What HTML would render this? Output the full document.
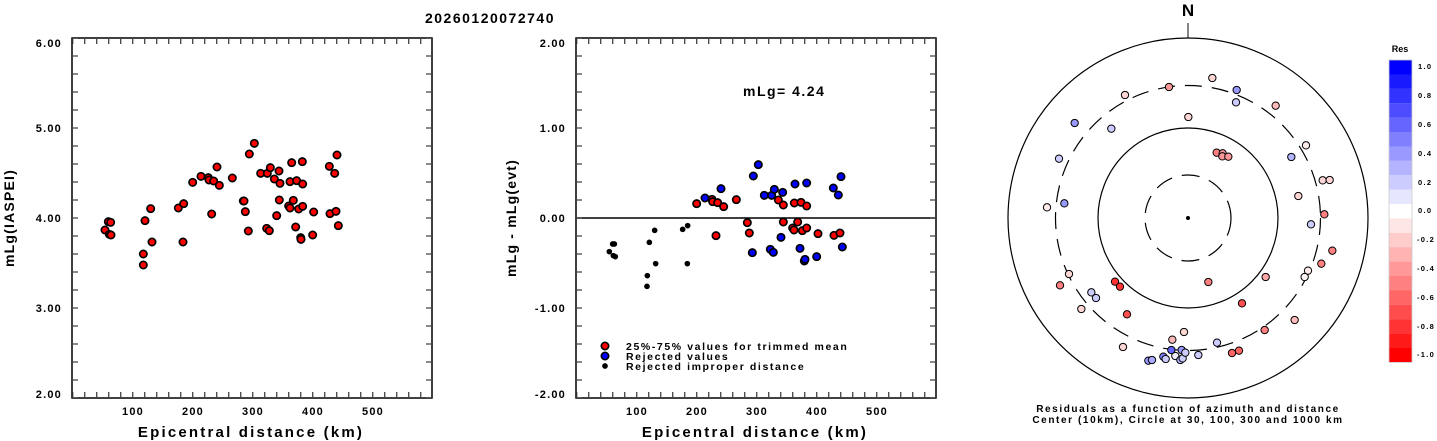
<!DOCTYPE html>
<html><head><meta charset="utf-8"><style>
body{margin:0;background:#fff;}
svg{display:block;font-family:"Liberation Sans",sans-serif;font-weight:bold;}
</style></head><body>
<svg width="1437" height="441" viewBox="0 0 1437 441" xmlns="http://www.w3.org/2000/svg">
<text x="490" y="23" font-size="14" text-anchor="middle" letter-spacing="1.5">20260120072740</text>

<!-- LEFT PLOT -->
<rect x="72" y="38" width="360" height="360" fill="none" stroke="#000" stroke-width="1.5"/>
<g stroke="#444" stroke-width="1.3">
<line x1="75" y1="38" x2="75" y2="398" stroke-width="6" stroke-dasharray="1.3 16.7" stroke-dashoffset="0.65"/>
<line x1="429" y1="38" x2="429" y2="398" stroke-width="6" stroke-dasharray="1.3 16.7" stroke-dashoffset="0.65"/>
<line x1="72.7" y1="395" x2="432" y2="395" stroke-width="6" stroke-dasharray="1.3 10.7" stroke-dashoffset="0.65"/>
<line x1="72.7" y1="41" x2="432" y2="41" stroke-width="6" stroke-dasharray="1.3 10.7" stroke-dashoffset="0.65"/>
</g>
<g font-size="11" text-anchor="end" letter-spacing="1.2">
<text x="62" y="47">6.00</text><text x="62" y="132">5.00</text><text x="62" y="222">4.00</text><text x="62" y="312">3.00</text><text x="62" y="398">2.00</text>
</g>
<g font-size="11" text-anchor="middle" letter-spacing="1.2">
<text x="133" y="415">100</text><text x="193" y="415">200</text><text x="253" y="415">300</text><text x="313" y="415">400</text><text x="373" y="415">500</text>
</g>
<text x="251" y="437" font-size="15" text-anchor="middle" letter-spacing="2.2">Epicentral distance (km)</text>
<text transform="translate(14,218) rotate(-90)" font-size="14" text-anchor="middle" letter-spacing="1.2">mLg(IASPEI)</text>
<g transform="scale(0.33333)" fill="#f00" stroke="#000" stroke-width="5">
<circle cx="315" cy="690" r="11"/><circle cx="325" cy="665" r="11"/><circle cx="332" cy="667" r="11"/><circle cx="328" cy="703" r="11"/><circle cx="333" cy="705" r="11"/>
<circle cx="430" cy="762" r="11"/><circle cx="430" cy="795" r="11"/><circle cx="435" cy="662" r="11"/><circle cx="452" cy="626" r="11"/><circle cx="456" cy="726" r="11"/>
<circle cx="535" cy="624" r="11"/><circle cx="551" cy="611" r="11"/><circle cx="549" cy="726" r="11"/><circle cx="578" cy="547" r="11"/><circle cx="603" cy="529" r="11"/>
<circle cx="625" cy="533" r="11"/><circle cx="627" cy="540" r="11"/><circle cx="641" cy="543" r="11"/><circle cx="651" cy="501" r="11"/><circle cx="658" cy="556" r="11"/>
<circle cx="635" cy="642" r="11"/><circle cx="697" cy="534" r="11"/><circle cx="730" cy="603" r="11"/><circle cx="732" cy="603" r="11"/><circle cx="736" cy="635" r="11"/>
<circle cx="745" cy="693" r="11"/><circle cx="748" cy="462" r="11"/><circle cx="763" cy="430" r="11"/><circle cx="782" cy="520" r="11"/><circle cx="802" cy="520" r="11"/>
<circle cx="800" cy="685" r="11"/><circle cx="808" cy="692" r="11"/><circle cx="811" cy="503" r="11"/><circle cx="823" cy="537" r="11"/><circle cx="837" cy="513" r="11"/>
<circle cx="840" cy="550" r="11"/><circle cx="838" cy="600" r="11"/><circle cx="830" cy="647" r="11"/><circle cx="866" cy="618" r="11"/><circle cx="870" cy="624" r="11"/>
<circle cx="870" cy="545" r="11"/><circle cx="875" cy="488" r="11"/><circle cx="880" cy="601" r="11"/><circle cx="887" cy="681" r="11"/><circle cx="890" cy="542" r="11"/>
<circle cx="896" cy="627" r="11"/><circle cx="907" cy="485" r="11"/><circle cx="908" cy="552" r="11"/><circle cx="908" cy="619" r="11"/><circle cx="902" cy="713" r="11"/>
<circle cx="903" cy="718" r="11"/><circle cx="938" cy="705" r="11"/><circle cx="941" cy="636" r="11"/><circle cx="988" cy="499" r="11"/><circle cx="990" cy="641" r="11"/>
<circle cx="1004" cy="520" r="11"/><circle cx="1008" cy="634" r="11"/><circle cx="1011" cy="465" r="11"/><circle cx="1015" cy="677" r="11"/>
</g>

<!-- MIDDLE PLOT -->
<rect x="576" y="38" width="360" height="360" fill="none" stroke="#000" stroke-width="1.5"/>
<line x1="576" y1="218" x2="936" y2="218" stroke="#000" stroke-width="1.5"/>
<g stroke="#444" stroke-width="1.3">
<line x1="579" y1="38" x2="579" y2="398" stroke-width="6" stroke-dasharray="1.3 16.7" stroke-dashoffset="0.65"/>
<line x1="933" y1="38" x2="933" y2="398" stroke-width="6" stroke-dasharray="1.3 16.7" stroke-dashoffset="0.65"/>
<line x1="576.7" y1="395" x2="936" y2="395" stroke-width="6" stroke-dasharray="1.3 10.7" stroke-dashoffset="0.65"/>
<line x1="576.7" y1="41" x2="936" y2="41" stroke-width="6" stroke-dasharray="1.3 10.7" stroke-dashoffset="0.65"/>
</g>
<g font-size="11" text-anchor="end" letter-spacing="1.2">
<text x="566" y="47">2.00</text><text x="566" y="132">1.00</text><text x="566" y="222">0.00</text><text x="566" y="312">-1.00</text><text x="566" y="398">-2.00</text>
</g>
<g font-size="11" text-anchor="middle" letter-spacing="1.2">
<text x="637" y="415">100</text><text x="697" y="415">200</text><text x="757" y="415">300</text><text x="817" y="415">400</text><text x="877" y="415">500</text>
</g>
<text x="755" y="437" font-size="15" text-anchor="middle" letter-spacing="2.2">Epicentral distance (km)</text>
<text transform="translate(516,218) rotate(-90)" font-size="14" text-anchor="middle" letter-spacing="1.2">mLg - mLg(evt)</text>
<text x="743" y="96" font-size="14" letter-spacing="1.5">mLg= 4.24</text>
<g transform="translate(490,0) scale(0.33333)" stroke="#000" stroke-width="5">
<g fill="#000">
<circle cx="358" cy="755" r="6"/><circle cx="368" cy="732" r="6"/><circle cx="373" cy="732" r="6"/><circle cx="370" cy="767" r="6"/><circle cx="376" cy="770" r="6"/>
<circle cx="472" cy="827" r="6"/><circle cx="471" cy="859" r="6"/><circle cx="478" cy="727" r="6"/><circle cx="494" cy="691" r="6"/><circle cx="497" cy="791" r="6"/>
<circle cx="578" cy="688" r="6"/><circle cx="593" cy="677" r="6"/><circle cx="592" cy="791" r="6"/>
<circle cx="345" cy="1098" r="6"/>
</g>
<g fill="#f00">
<circle cx="620" cy="611" r="11"/><circle cx="666" cy="598" r="11"/><circle cx="668" cy="605" r="11"/><circle cx="683" cy="608" r="11"/><circle cx="701" cy="620" r="11"/>
<circle cx="678" cy="707" r="11"/><circle cx="739" cy="599" r="11"/><circle cx="772" cy="668" r="11"/><circle cx="778" cy="699" r="11"/><circle cx="865" cy="600" r="11"/>
<circle cx="880" cy="615" r="11"/><circle cx="880" cy="666" r="11"/><circle cx="908" cy="684" r="11"/><circle cx="912" cy="690" r="11"/><circle cx="913" cy="609" r="11"/>
<circle cx="923" cy="666" r="11"/><circle cx="933" cy="607" r="11"/><circle cx="937" cy="692" r="11"/><circle cx="950" cy="618" r="11"/><circle cx="950" cy="684" r="11"/>
<circle cx="984" cy="701" r="11"/><circle cx="1032" cy="706" r="11"/><circle cx="1050" cy="699" r="11"/>
<circle cx="345" cy="1038" r="11"/>
</g>
<g fill="#00f">
<circle cx="645" cy="594" r="11"/><circle cx="693" cy="566" r="11"/><circle cx="790" cy="528" r="11"/><circle cx="805" cy="494" r="11"/><circle cx="787" cy="758" r="11"/>
<circle cx="823" cy="586" r="11"/><circle cx="845" cy="586" r="11"/><circle cx="853" cy="568" r="11"/><circle cx="841" cy="748" r="11"/><circle cx="850" cy="757" r="11"/>
<circle cx="878" cy="577" r="11"/><circle cx="873" cy="712" r="11"/><circle cx="915" cy="552" r="11"/><circle cx="950" cy="549" r="11"/><circle cx="930" cy="745" r="11"/>
<circle cx="943" cy="783" r="11"/><circle cx="945" cy="778" r="11"/><circle cx="980" cy="770" r="11"/><circle cx="1030" cy="564" r="11"/><circle cx="1045" cy="585" r="11"/>
<circle cx="1053" cy="530" r="11"/><circle cx="1057" cy="741" r="11"/>
<circle cx="345" cy="1068" r="11"/>
</g>
</g>
<g font-size="10.5" letter-spacing="1.6">
<text x="626" y="350">25%-75% values for trimmed mean</text>
<text x="626" y="360">Rejected values</text>
<text x="626" y="370">Rejected improper distance</text>
</g>

<!-- POLAR -->
<text x="1188" y="16" font-size="17" text-anchor="middle">N</text>
<line x1="1188" y1="23" x2="1188" y2="38" stroke="#444" stroke-width="1.3"/>
<g fill="none" stroke="#000" stroke-width="1.2">
<circle cx="1188" cy="218" r="180"/>
<circle cx="1188" cy="218" r="90"/>
<circle cx="1188" cy="218" r="132.5" stroke-dasharray="17 10"/>
<circle cx="1188" cy="218" r="43" stroke-dasharray="18 10"/>
</g>
<circle cx="1188" cy="218" r="2" fill="#000"/>
<g transform="translate(1000,0) scale(0.33333)" stroke="#000" stroke-width="3">
<circle cx="637" cy="234" r="11" fill="#ffd6d6"/>
<circle cx="507" cy="261" r="11" fill="#ff9999"/>
<circle cx="710" cy="270" r="11" fill="#9999ff"/>
<circle cx="708" cy="307" r="11" fill="#ccccff"/>
<circle cx="375" cy="285" r="11" fill="#ffd6d6"/>
<circle cx="827" cy="317" r="11" fill="#ffbbbb"/>
<circle cx="565" cy="351" r="11" fill="#ffd6d6"/>
<circle cx="224" cy="369" r="11" fill="#9999ff"/>
<circle cx="334" cy="386" r="11" fill="#ccccff"/>
<circle cx="918" cy="436" r="11" fill="#ffeaea"/>
<circle cx="177" cy="476" r="11" fill="#ccccff"/>
<circle cx="874" cy="471" r="11" fill="#b3b3ff"/>
<circle cx="650" cy="458" r="11" fill="#ff8080"/>
<circle cx="668" cy="460" r="11" fill="#ff9999"/>
<circle cx="667" cy="469" r="11" fill="#ff9999"/>
<circle cx="685" cy="470" r="11" fill="#ff9999"/>
<circle cx="968" cy="541" r="11" fill="#ffd6d6"/>
<circle cx="989" cy="540" r="11" fill="#ffd6d6"/>
<circle cx="895" cy="588" r="11" fill="#ffd6d6"/>
<circle cx="141" cy="622" r="11" fill="#ffeaea"/>
<circle cx="193" cy="610" r="11" fill="#9999ff"/>
<circle cx="973" cy="643" r="11" fill="#ff8080"/>
<circle cx="933" cy="673" r="11" fill="#ccccff"/>
<circle cx="997" cy="752" r="11" fill="#ff8080"/>
<circle cx="964" cy="791" r="11" fill="#ff8080"/>
<circle cx="924" cy="812" r="11" fill="#ffeaea"/>
<circle cx="914" cy="831" r="11" fill="#fff4f4"/>
<circle cx="207" cy="822" r="11" fill="#ffd6d6"/>
<circle cx="180" cy="856" r="11" fill="#ff8080"/>
<circle cx="345" cy="845" r="11" fill="#ff3333"/>
<circle cx="360" cy="860" r="11" fill="#ff3333"/>
<circle cx="625" cy="846" r="11" fill="#ff8080"/>
<circle cx="797" cy="831" r="11" fill="#ffa6a6"/>
<circle cx="274" cy="877" r="11" fill="#ccccff"/>
<circle cx="288" cy="894" r="11" fill="#ccccff"/>
<circle cx="244" cy="927" r="11" fill="#ffd6d6"/>
<circle cx="381" cy="943" r="11" fill="#ff5050"/>
<circle cx="726" cy="910" r="11" fill="#ff5050"/>
<circle cx="884" cy="960" r="11" fill="#ffbbbb"/>
<circle cx="794" cy="990" r="11" fill="#ff8080"/>
<circle cx="552" cy="996" r="11" fill="#ffd6d6"/>
<circle cx="517" cy="1019" r="11" fill="#ffbbbb"/>
<circle cx="369" cy="1041" r="11" fill="#ffd6d6"/>
<circle cx="651" cy="1028" r="11" fill="#ccccff"/>
<circle cx="696" cy="1059" r="11" fill="#ff6666"/>
<circle cx="717" cy="1052" r="11" fill="#ff6666"/>
<circle cx="445" cy="1082" r="11" fill="#9999ff"/>
<circle cx="456" cy="1080" r="11" fill="#aaaaff"/>
<circle cx="490" cy="1070" r="11" fill="#8080ff"/>
<circle cx="497" cy="1077" r="11" fill="#ccccff"/>
<circle cx="526" cy="1068" r="11" fill="#eeeeff"/>
<circle cx="541" cy="1080" r="11" fill="#b3b3ff"/>
<circle cx="548" cy="1075" r="11" fill="#ccccff"/>
<circle cx="545" cy="1050" r="11" fill="#9999ff"/>
<circle cx="556" cy="1058" r="11" fill="#ccccff"/>
<circle cx="514" cy="1050" r="11" fill="#6666ff"/>
<circle cx="595" cy="1065" r="11" fill="#ccccff"/>
</g>
<g font-size="10" text-anchor="middle" letter-spacing="1.6">
<text x="1188" y="412">Residuals as a function of azimuth and distance</text>
<text x="1188" y="423">Center (10km), Circle at 30, 100, 300 and 1000 km</text>
</g>

<!-- COLORBAR -->
<text x="1400" y="52" font-size="9" text-anchor="middle">Res</text>
<g stroke="none">
<rect x="1389" y="60" width="23" height="14.5" fill="#0000ff"/>
<rect x="1389" y="74.4" width="23" height="14.5" fill="#1a1aff"/>
<rect x="1389" y="88.8" width="23" height="14.5" fill="#3333ff"/>
<rect x="1389" y="103.2" width="23" height="14.5" fill="#4d4dff"/>
<rect x="1389" y="117.6" width="23" height="14.5" fill="#6666ff"/>
<rect x="1389" y="132" width="23" height="14.5" fill="#8080ff"/>
<rect x="1389" y="146.4" width="23" height="14.5" fill="#9999ff"/>
<rect x="1389" y="160.8" width="23" height="14.5" fill="#b3b3ff"/>
<rect x="1389" y="175.2" width="23" height="14.5" fill="#ccccff"/>
<rect x="1389" y="189.6" width="23" height="14.5" fill="#e6e6ff"/>
<rect x="1389" y="204" width="23" height="14.5" fill="#ffffff"/>
<rect x="1389" y="218.4" width="23" height="14.5" fill="#ffe6e6"/>
<rect x="1389" y="232.8" width="23" height="14.5" fill="#ffcccc"/>
<rect x="1389" y="247.2" width="23" height="14.5" fill="#ffb3b3"/>
<rect x="1389" y="261.6" width="23" height="14.5" fill="#ff9999"/>
<rect x="1389" y="276" width="23" height="14.5" fill="#ff8080"/>
<rect x="1389" y="290.4" width="23" height="14.5" fill="#ff6666"/>
<rect x="1389" y="304.8" width="23" height="14.5" fill="#ff4d4d"/>
<rect x="1389" y="319.2" width="23" height="14.5" fill="#ff3333"/>
<rect x="1389" y="333.6" width="23" height="14.5" fill="#ff1a1a"/>
<rect x="1389" y="348" width="23" height="14.5" fill="#ff0000"/>
</g>
<rect x="1389" y="60" width="23" height="302.4" fill="none" stroke="#ccc" stroke-width="0.8"/>
<g font-size="7.5" letter-spacing="1.3">
<text x="1418" y="69">1.0</text><text x="1418" y="98">0.8</text><text x="1418" y="127">0.6</text><text x="1418" y="156">0.4</text><text x="1418" y="185">0.2</text>
<text x="1418" y="213">0.0</text><text x="1417" y="242">-0.2</text><text x="1417" y="271">-0.4</text><text x="1417" y="300">-0.6</text><text x="1417" y="329">-0.8</text><text x="1417" y="357">-1.0</text>
</g>
</svg>
</body></html>
